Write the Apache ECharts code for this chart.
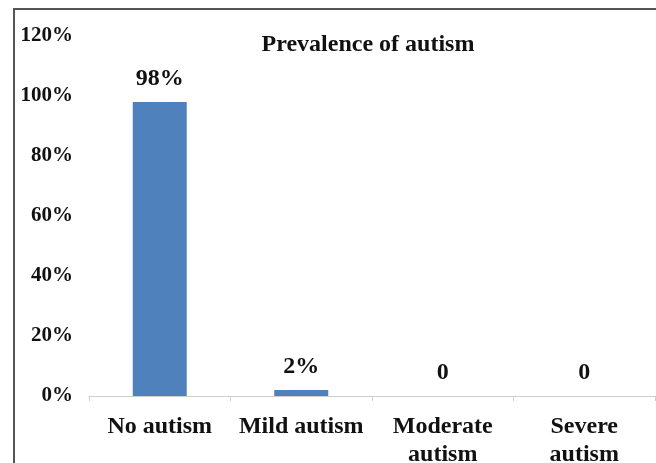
<!DOCTYPE html>
<html><head><meta charset="utf-8">
<script src="https://cdn.jsdelivr.net/npm/echarts@6/dist/echarts.min.js"></script>
<style>html,body{margin:0;padding:0;background:#fff}#c{width:656px;height:463px;position:relative}
#frame{position:absolute;left:13px;top:8px;width:700px;height:600px;border-left:2px solid #555;border-top:2px solid #555;pointer-events:none}</style>
</head><body><div id="c"></div><div id="frame"></div>
<script>
const categories = ['No autism', 'Mild autism', 'Moderate\nautism', 'Severe\nautism'];
const values = [98, 2, 0, 0];
const yTicks = [0, 20, 40, 60, 80, 100, 120];
const titleText = 'Prevalence of autism';

const font = '"Liberation Serif", "Times New Roman", serif';
const chart = echarts.init(document.getElementById('c'));
chart.setOption({
  animation: false,
  title: { text: titleText, left: 363, top: 28, textAlign: 'center',
    textStyle: { fontFamily: font, fontWeight: 'bold', fontSize: 24, color: '#111' } },
  grid: { left: 89, right: 1, top: 36, bottom: 67, containLabel: false, outerBoundsMode: 'none' },
  xAxis: { type: 'category', data: categories,
    axisLine: { lineStyle: { color: '#cfcfcf', width: 1 } },
    axisTick: { show: true, length: 5, lineStyle: { color: '#cfcfcf' } },
    axisLabel: { interval: 0, margin: 17, fontFamily: font, fontWeight: 'bold', fontSize: 24, color: '#111', lineHeight: 28 } },
  yAxis: { type: 'value', min: 0, max: 120, interval: 20,
    axisLine: { show: false }, axisTick: { show: false }, splitLine: { show: false },
    axisLabel: { margin: 16, fontFamily: font, fontWeight: 'bold', fontSize: 21, color: '#111',
      formatter: v => yTicks.includes(v) ? v + '%' : '' } },
  series: [{ type: 'bar', data: values, barWidth: 54, itemStyle: { color: '#4F81BD' },
    label: { show: true, position: 'top', distance: 11, fontFamily: font, fontWeight: 'bold', fontSize: 24, color: '#111',
      formatter: p => p.value === 0 ? '0' : p.value + '%' } }]
});
</script></body></html>
